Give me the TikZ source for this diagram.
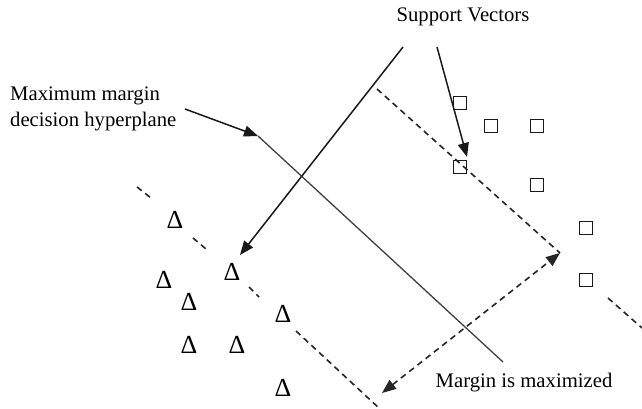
\documentclass[tikz,border=0pt]{standalone}
\usepackage{fontspec}
\setmainfont{Liberation Serif}
\usetikzlibrary{arrows.meta}
\tikzset{
  lbl/.style={font=\fontsize{20.7}{25.5}\selectfont, inner sep=0pt, align=left},
  pointer/.style={line width=1.5pt, draw=black!90, -{Triangle[length=14pt,width=11pt]}},
  hyper/.style={line width=1.3pt, draw=black!75},
  marginline/.style={line width=1.6pt, draw=black!85, dash pattern=on 6pt off 4.5pt},
  sq/.style={draw=black!90, line width=1.7pt, minimum size=13pt, inner sep=0pt},
  tri/.style={font=\fontsize{26}{26}\selectfont, inner sep=0pt},
}
\begin{document}
\begin{tikzpicture}[x=1pt,y=-1pt]
\useasboundingbox (0,0) rectangle (642,409);
\fill[white] (0,0) rectangle (642,409);

% labels
\node[lbl, anchor=north west] (mm) at (10,87) {Maximum margin\\decision hyperplane};
\node[lbl] (sv) at (463,17) {Support Vectors};
\node[lbl] (mx) at (524,383) {Margin is maximized};

% class +1 (squares)
\node[sq] (s1) at (460,103) {};
\node[sq] (s2) at (491,126) {};
\node[sq] (s3) at (537,126) {};
\node[sq] (s4) at (460,167) {};
\node[sq] (s5) at (537,185) {};
\node[sq] (s6) at (586,228) {};
\node[sq] (s7) at (586,280) {};

% class -1 (triangles)
\node[tri] (t1) at (175,220) {Δ};
\node[tri] (t2) at (232,272) {Δ};
\node[tri] (t3) at (164,280) {Δ};
\node[tri] (t4) at (189,302) {Δ};
\node[tri] (t5) at (283,314) {Δ};
\node[tri] (t6) at (189,345) {Δ};
\node[tri] (t7) at (237,345) {Δ};
\node[tri] (t8) at (283,388) {Δ};

% decision hyperplane
\coordinate (h1) at (258,136);
\coordinate (h2) at (503,362);
\draw[hyper] (h1) -- (h2);

% upper margin boundary
\coordinate (u1) at (377,89);
\coordinate (u2) at (560,253);
\coordinate (u3) at (608,298);
\coordinate (u4) at (642,328);
\draw[marginline] (u1) -- (u2);
\draw[marginline] (u3) -- (u4);

% lower margin boundary
\coordinate (l1) at (137,187);
\coordinate (l2) at (151,198);
\coordinate (l3) at (193,238);
\coordinate (l4) at (206,249);
\coordinate (l5) at (249,287);
\coordinate (l6) at (259,297);
\coordinate (l7) at (296,331);
\coordinate (l8) at (380,409);
\draw[marginline] (l1) -- (l2);
\draw[marginline] (l3) -- (l4);
\draw[marginline] (l5) -- (l6);
\draw[marginline] (l7) -- (l8);

% margin width
\coordinate (m1) at (382,393);
\coordinate (m2) at (560,253);
\draw[marginline, {Triangle[length=14pt,width=11pt]}-{Triangle[length=14pt,width=11pt]}] (m1) -- (m2);

% pointers
\coordinate (p0) at (185,109);
\draw[pointer] (p0) -- (h1);
\coordinate (p1) at (403,47);
\coordinate (p2) at (437,47);
\draw[pointer] (p1) -- (240,255);
\draw[pointer] (p2) -- (467,157);
\end{tikzpicture}
\end{document}
